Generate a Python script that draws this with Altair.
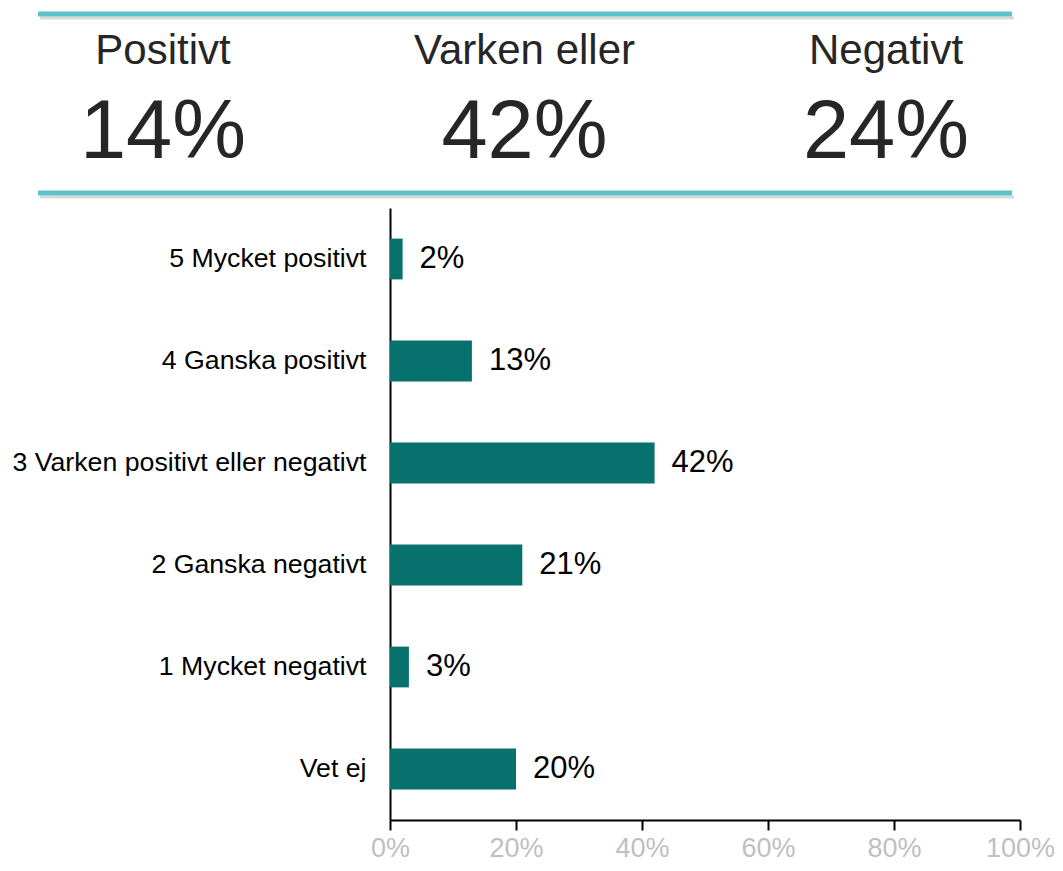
import altair as alt
import pandas as pd

# ---- data ----
categories = [
    "5 Mycket positivt",
    "4 Ganska positivt",
    "3 Varken positivt eller negativt",
    "2 Ganska negativt",
    "1 Mycket negativt",
    "Vet ej",
]
shares = [0.02, 0.13, 0.42, 0.21, 0.03, 0.20]

summary_labels = ["Positivt", "Varken eller", "Negativt"]
summary_values = [0.14, 0.42, 0.24]

x_ticks = [0, 0.2, 0.4, 0.6, 0.8, 1.0]

df = pd.DataFrame({"category": categories, "share": shares})
sdf = pd.DataFrame({"label": summary_labels, "value": summary_values})
one = pd.DataFrame({"k": [0]})

FONT = "Liberation Sans"
TEAL = "#5CC3CB"
BAR = "#07716E"

# ---- summary panel (drawn above the plot area) ----
sx = alt.X(
    "label:N",
    sort=summary_labels,
    scale=alt.Scale(type="point", domain=summary_labels, range=[-227, 496], padding=0),
    axis=None,
)

shadow_top = alt.Chart(one).mark_rule(color="#808080", opacity=0.3, strokeWidth=3).encode(
    x=alt.value(-350), x2=alt.value(624), y=alt.value(-190)
)
line_top = alt.Chart(one).mark_rule(color=TEAL, strokeWidth=5).encode(
    x=alt.value(-352), x2=alt.value(622), y=alt.value(-194)
)
shadow_bot = alt.Chart(one).mark_rule(color="#808080", opacity=0.3, strokeWidth=3).encode(
    x=alt.value(-350), x2=alt.value(624), y=alt.value(-11)
)
line_bot = alt.Chart(one).mark_rule(color=TEAL, strokeWidth=5).encode(
    x=alt.value(-352), x2=alt.value(622), y=alt.value(-15)
)

titles = alt.Chart(sdf).mark_text(
    font=FONT, fontSize=42, color="#262626", baseline="alphabetic", align="center"
).encode(x=sx, y=alt.value(-144), text="label:N")

numbers = alt.Chart(sdf).mark_text(
    font=FONT, fontSize=83, color="#262626", baseline="alphabetic", align="center"
).encode(x=sx, y=alt.value(-50), text=alt.Text("value:Q", format=".0%"))

top = alt.layer(shadow_top, line_top, shadow_bot, line_bot, titles, numbers)

# ---- bar chart ----
x_enc = alt.X(
    "share:Q",
    scale=alt.Scale(domain=[0, 1]),
    axis=alt.Axis(
        values=x_ticks,
        format=".0%",
        title=None,
        grid=False,
        domainColor="black",
        domainWidth=2,
        tickColor="black",
        tickWidth=2,
        tickSize=10,
        labelColor="#BFBFBF",
        labelFont=FONT,
        labelFontSize=27,
        labelPadding=5,
        labelFlush=False,
        labelOverlap=False,
    ),
)
y_enc = alt.Y(
    "category:N",
    sort=categories,
    scale=alt.Scale(paddingInner=0.6, paddingOuter=0.3),
    axis=alt.Axis(
        title=None,
        ticks=False,
        domainColor="black",
        domainWidth=2,
        labelColor="black",
        labelFont=FONT,
        labelFontSize=26.7,
        labelPadding=24,
        labelLimit=0,
    ),
)

bars = alt.Chart(df).mark_bar(color=BAR).encode(x=x_enc, y=y_enc)
labels = alt.Chart(df).mark_text(
    font=FONT, fontSize=31, color="black", align="left", baseline="middle", dx=17
).encode(x=x_enc, y=y_enc, text=alt.Text("share:Q", format=".0%"))

bottom = alt.layer(bars, labels)

chart = (
    alt.layer(top, bottom)
    .resolve_scale(x="independent")
    .properties(
        width=630,
        height=612,
        autosize=alt.AutoSizeParams(type="none"),
        padding={"left": 382, "top": 200, "right": 35, "bottom": 43},
    )
    .configure_view(stroke=None)
)

chart.save("out.html", embed_options={"renderer": "svg", "actions": False})
